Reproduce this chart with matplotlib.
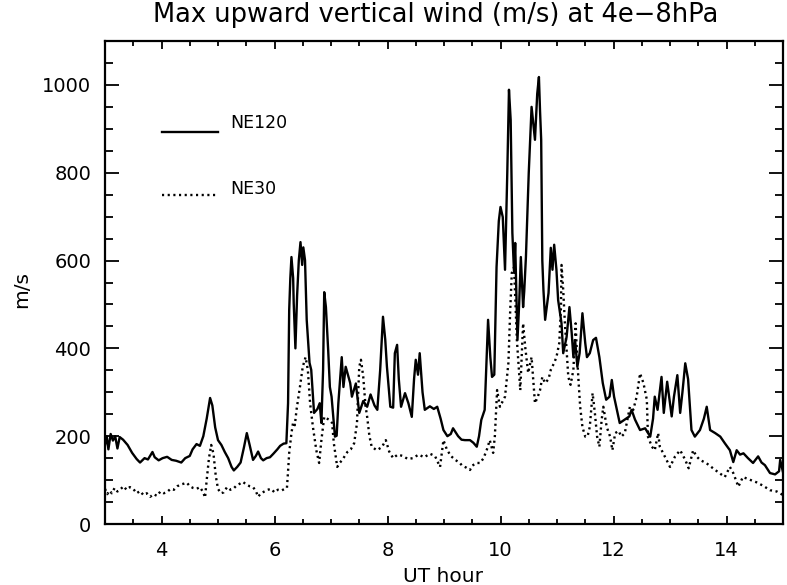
import matplotlib
matplotlib.use("Agg")
import matplotlib.pyplot as plt
from matplotlib.lines import Line2D
from matplotlib.ticker import MultipleLocator, FixedLocator

# NE120 run: max upward vertical wind (m/s) vs UT hour
ne120_hour = [
    3.00, 3.03, 3.06, 3.10, 3.14, 3.18, 3.22, 3.26, 3.32, 3.40, 3.48, 3.56, 3.62,
    3.70, 3.76, 3.84, 3.88, 3.95, 4.02, 4.10, 4.18, 4.26, 4.35, 4.42, 4.50, 4.55,
    4.62, 4.68, 4.74, 4.80, 4.86, 4.90, 4.95, 5.00, 5.06, 5.12, 5.18, 5.24, 5.28,
    5.34, 5.40, 5.46, 5.51, 5.56, 5.62, 5.67, 5.71, 5.76, 5.80, 5.86, 5.92, 5.98,
    6.05, 6.10, 6.16, 6.21, 6.24, 6.26, 6.28, 6.30, 6.33, 6.34, 6.37, 6.40, 6.43,
    6.46, 6.49, 6.51, 6.54, 6.57, 6.62, 6.65, 6.70, 6.76, 6.80, 6.83, 6.86, 6.88,
    6.91, 6.95, 6.98, 7.01, 7.07, 7.10, 7.13, 7.19, 7.22, 7.26, 7.34, 7.37, 7.44,
    7.50, 7.57, 7.64, 7.70, 7.77, 7.82, 7.87, 7.92, 7.96, 7.99, 8.05, 8.10, 8.13,
    8.17, 8.20, 8.24, 8.31, 8.37, 8.43, 8.47, 8.50, 8.54, 8.57, 8.62, 8.66, 8.75,
    8.82, 8.88, 8.94, 8.99, 9.06, 9.12, 9.16, 9.25, 9.31, 9.37, 9.46, 9.52, 9.58,
    9.62, 9.66, 9.72, 9.78, 9.82, 9.85, 9.89, 9.93, 9.97, 10.00, 10.04, 10.08,
    10.12, 10.15, 10.18, 10.21, 10.24, 10.26, 10.30, 10.33, 10.36, 10.40, 10.42,
    10.45, 10.50, 10.55, 10.61, 10.65, 10.68, 10.70, 10.72, 10.74, 10.76, 10.79,
    10.85, 10.89, 10.92, 10.95, 10.99, 11.02, 11.08, 11.11, 11.17, 11.22, 11.26,
    11.29, 11.32, 11.36, 11.40, 11.45, 11.50, 11.53, 11.58, 11.64, 11.69, 11.75,
    11.81, 11.87, 11.93, 11.97, 12.01, 12.06, 12.11, 12.20, 12.28, 12.32, 12.38,
    12.47, 12.56, 12.65, 12.70, 12.73, 12.78, 12.85, 12.89, 12.95, 13.03, 13.07,
    13.13, 13.18, 13.22, 13.27, 13.32, 13.38, 13.44, 13.53, 13.60, 13.65, 13.71,
    13.80, 13.89, 13.97, 14.06, 14.12, 14.18, 14.24, 14.30, 14.38, 14.47, 14.56,
    14.62, 14.68, 14.77, 14.86, 14.93, 14.95, 15.00,
]
ne120_speed = [
    180, 200, 170, 205, 190, 200, 172, 198, 192, 180, 162, 148, 140,
    150, 147, 164, 152, 145, 150, 153, 146, 144, 140, 150, 155, 170,
    182, 178, 200, 240, 287, 270, 220, 191, 180, 164, 150, 130, 122,
    130, 140, 175, 207, 180, 146, 155, 165, 150, 145, 150, 152, 160,
    170, 178, 183, 184, 275, 487, 560, 608, 560, 503, 400, 520, 600,
    642, 590, 630, 601, 465, 367, 351, 253, 262, 275, 230, 351, 528,
    494, 396, 312, 290, 199, 201, 275, 380, 312, 358, 321, 290, 320,
    253, 280, 267, 295, 270, 260, 350, 472, 420, 358, 267, 265, 389,
    408, 330, 267, 298, 275, 244, 330, 374, 340, 389, 300, 260, 268,
    262, 267, 240, 214, 200, 205, 218, 200, 192, 191, 191, 185, 176,
    200, 237, 260, 465, 380, 335, 340, 585, 690, 722, 699, 579,
    800, 989, 920, 663, 572, 640, 419, 500, 608, 494, 530,
    608, 800, 950, 875, 980, 1018, 940, 875, 600, 533, 465,
    526, 629, 579, 636, 579, 510, 457, 389, 426, 494, 435,
    380, 419, 358, 389, 480, 412, 380, 389, 419, 424, 380,
    321, 283, 290, 328, 290, 260, 230, 238, 245, 260, 238,
    214, 218, 199, 240, 290, 260, 335, 253, 324, 245, 290,
    339, 253, 300, 366, 330, 214, 199, 214, 240, 267, 214,
    207, 199, 184, 168, 141, 168, 158, 161, 150, 139, 154,
    140, 134, 116, 113, 120, 146, 118,
]

# NE30 run
ne30_hour = [
    3.00, 3.04, 3.08, 3.12, 3.17, 3.22, 3.28, 3.33, 3.38, 3.44, 3.50, 3.56, 3.62,
    3.68, 3.74, 3.80, 3.86, 3.92, 3.98, 4.04, 4.10, 4.16, 4.22, 4.28, 4.34, 4.40,
    4.45, 4.50, 4.56, 4.62, 4.68, 4.74, 4.77, 4.80, 4.84, 4.88, 4.92, 4.96, 5.00,
    5.05, 5.10, 5.16, 5.22, 5.27, 5.33, 5.39, 5.44, 5.50, 5.56, 5.62, 5.67, 5.71,
    5.76, 5.82, 5.88, 5.94, 6.00, 6.06, 6.12, 6.18, 6.22, 6.24, 6.26, 6.30, 6.33,
    6.36, 6.39, 6.45, 6.50, 6.55, 6.59, 6.63, 6.68, 6.74, 6.79, 6.83, 6.88, 6.93,
    6.97, 7.02, 7.05, 7.11, 7.16, 7.20, 7.29, 7.35, 7.41, 7.46, 7.50, 7.53, 7.57,
    7.61, 7.64, 7.68, 7.72, 7.81, 7.90, 7.97, 8.03, 8.10, 8.18, 8.27, 8.36, 8.45,
    8.55, 8.65, 8.75, 8.84, 8.93, 8.99, 9.05, 9.12, 9.20, 9.28, 9.32, 9.40, 9.46,
    9.50, 9.58, 9.64, 9.70, 9.76, 9.81, 9.87, 9.90, 9.94, 9.99, 10.04, 10.08,
    10.14, 10.17, 10.20, 10.24, 10.29, 10.35, 10.40, 10.44, 10.49, 10.55, 10.61,
    10.66, 10.70, 10.74, 10.79, 10.85, 10.89, 10.95, 10.99, 11.04, 11.07, 11.08,
    11.11, 11.14, 11.17, 11.20, 11.24, 11.29, 11.33, 11.35, 11.38, 11.41, 11.45,
    11.50, 11.54, 11.58, 11.63, 11.67, 11.71, 11.75, 11.79, 11.82, 11.88, 11.94,
    11.98, 12.03, 12.09, 12.14, 12.20, 12.29, 12.35, 12.41, 12.47, 12.53, 12.59,
    12.61, 12.68, 12.73, 12.79, 12.82, 12.88, 13.00, 13.09, 13.18, 13.27, 13.33,
    13.41, 13.47, 13.53, 13.65, 13.80, 13.97, 14.06, 14.12, 14.21, 14.29, 14.41,
    14.53, 14.65, 14.77, 14.89, 15.00,
]
ne30_speed = [
    80, 68, 76, 70, 82, 74, 80, 86, 78, 84, 80, 70, 75,
    66, 70, 62, 68, 64, 74, 70, 73, 80, 78, 86, 90, 92,
    94, 86, 82, 80, 84, 72, 60, 100, 150, 180, 160, 110, 80,
    70, 72, 84, 78, 80, 88, 92, 96, 90, 86, 84, 75, 62,
    70, 74, 78, 80, 72, 78, 76, 80, 82, 120, 162, 207, 232,
    225, 260, 312, 358, 380, 351, 275, 221, 168, 139, 191, 244, 240,
    237, 230, 184, 130, 140, 146, 164, 170, 184, 230, 358, 374, 336,
    270, 244, 200, 176, 168, 175, 191, 165, 150, 158, 155, 148, 150,
    158, 152, 160, 155, 130, 191, 170, 155, 146, 139, 133, 128, 123,
    133, 139, 139, 150, 170, 191, 162, 200, 305, 267, 280, 290,
    367, 480, 572, 585, 419, 305, 457, 400, 344, 380, 275,
    290, 305, 335, 321, 330, 351, 367, 380, 412, 494, 590,
    533, 457, 396, 335, 317, 351, 457, 396, 328, 267, 221,
    199, 199, 221, 298, 253, 199, 176, 237, 267, 221, 199,
    168, 207, 212, 199, 207, 267, 260, 290, 343, 321, 283,
    199, 176, 168, 207, 176, 161, 130, 154, 168, 146, 127,
    168, 154, 146, 138, 123, 107, 130, 116, 85, 107, 101,
    95, 87, 77, 74, 66,
]

series_names = ["NE120", "NE30"]
x_tick_values = [4, 6, 8, 10, 12, 14]
y_tick_values = [0, 200, 400, 600, 800, 1000]

W, H = 787, 585
fig = plt.figure(figsize=(W / 100, H / 100), dpi=100)
plt.rcParams["font.family"] = ["DejaVu Sans"]

# axes box in pixel terms: left 105, right 783, top 41, bottom 524
ax = fig.add_axes([105 / W, (H - 524) / H, (783 - 105) / W, (524 - 41) / H])

SOLID_LW = 1.7
DOT_LW = 1.7
DOTS = (0, (0.9, 1.5))

ax.plot(ne120_hour, ne120_speed, color="black", lw=SOLID_LW, solid_joinstyle="round")
ax.plot(ne30_hour, ne30_speed, color="black", lw=DOT_LW, linestyle=DOTS)

ax.set_xlim(3, 15)
ax.set_ylim(0, 1100)

ax.xaxis.set_major_locator(FixedLocator(x_tick_values))
ax.xaxis.set_minor_locator(MultipleLocator(0.5))
ax.yaxis.set_major_locator(FixedLocator(y_tick_values))
ax.yaxis.set_minor_locator(MultipleLocator(50))
ax.set_xticklabels([str(v) for v in x_tick_values])
ax.set_yticklabels([str(v) for v in y_tick_values])

ax.tick_params(axis="both", which="both", direction="in", top=True, right=True,
               width=1.3, colors="black", labelsize=14)
ax.tick_params(axis="x", which="major", length=6, pad=12)
ax.tick_params(axis="x", which="minor", length=3.5)
ax.tick_params(axis="y", which="major", length=10, pad=10)
ax.tick_params(axis="y", which="minor", length=5.5)
for s in ax.spines.values():
    s.set_linewidth(1.6)

def fx(px):
    return px / W

def fy(py):
    return (H - py) / H

fig.text(fx(436), fy(15), "Max upward vertical wind (m/s) at 4e\u22128hPa",
         ha="center", va="center", fontsize=18.5)
fig.text(fx(443), fy(577), "UT hour", ha="center", va="center", fontsize=14.5)
fig.text(fx(22), fy(290), "m/s", ha="center", va="center", rotation=90, fontsize=14.5)

# legend drawn by hand
fig.add_artist(Line2D([fx(162), fx(218)], [fy(132), fy(132)], color="black", lw=SOLID_LW))
fig.add_artist(Line2D([fx(162), fx(218)], [fy(195), fy(195)], color="black", lw=DOT_LW,
                      linestyle=DOTS))
fig.text(fx(230), fy(123), series_names[0], ha="left", va="center", fontsize=12.5)
fig.text(fx(230), fy(189), series_names[1], ha="left", va="center", fontsize=12.5)

fig.savefig("out.png", dpi=100, facecolor="white")
